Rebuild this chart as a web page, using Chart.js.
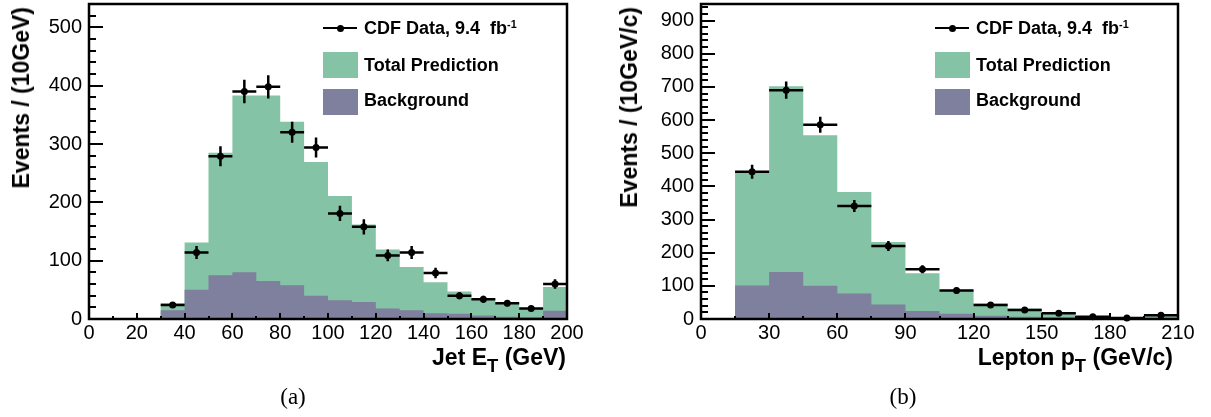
<!DOCTYPE html>
<html><head><meta charset="utf-8">
<script src="https://cdn.jsdelivr.net/npm/chart.js@4.4.1/dist/chart.umd.min.js"></script>
<style>
body{margin:0;background:#fff;}
#wrap{position:relative;width:1211px;height:417px;overflow:hidden;font-family:"Liberation Sans",Arial,sans-serif;color:#000;}
canvas{position:absolute;top:0;}
.ytitle{position:absolute;top:7px;writing-mode:vertical-rl;transform:rotate(180deg);font-weight:bold;font-size:23px;line-height:26px;white-space:nowrap;}
.xtitle{position:absolute;font-weight:bold;font-size:23px;white-space:nowrap;line-height:26px;}
.xtitle sub{font-size:0.8em;vertical-align:-0.4em;line-height:0;}
.cap{position:absolute;font-family:"Liberation Serif","DejaVu Serif",serif;font-size:23px;transform:translateX(-50%);line-height:24px;}
.leg{position:absolute;font-weight:bold;font-size:18px;white-space:nowrap;line-height:20px;}
.leg sup{font-size:0.6em;vertical-align:0.6em;line-height:0;}
.sw{position:absolute;width:35px;height:26px;}
.lline{position:absolute;height:2px;background:#000;width:34px;}
.ldot{position:absolute;width:7px;height:7px;border-radius:50%;background:#000;}
</style></head>
<body>
<div id="wrap">
  <canvas id="c1" width="600" height="417" style="left:0;width:600px;height:417px"></canvas>
  <canvas id="c2" width="605" height="417" style="left:606px;width:605px;height:417px"></canvas>
  <div class="ytitle" style="left:8px">Events / (10GeV)</div>
  <div class="ytitle" style="left:616px">Events / (10GeV/c)</div>
  <div class="xtitle" style="right:calc(1211px - 566px);top:344px">Jet E<sub>T</sub> (GeV)</div>
  <div class="xtitle" style="right:calc(1211px - 1173px);top:344px">Lepton p<sub>T</sub> (GeV/c)</div>
  <div class="cap" style="left:293px;top:385px">(a)</div>
  <div class="cap" style="left:903px;top:385px">(b)</div>
</div>
<script>
// ---------- data ----------
const jetBinEdges = [0,10,20,30,40,50,60,70,80,90,100,110,120,130,140,150,160,170,180,190,200];
const jetTotal    = [0,0,0,27,131,285,383,383,338,269,211,162,119,89,63,47,36,28,18,55];
const jetBkg      = [0,0,0,15,50,75,80,65,58,40,32,29,18,15,10,9,6,4,3,14];
const jetData     = [null,null,null,24,114,279,390,398,320,294,181,158,109,114,79,40,34,27,18,60];
const jetErr      = [null,null,null,5,11,17,20,20,18,17,13,13,10,11,9,6,6,5,4,8];
const jetXTicks   = [0,20,40,60,80,100,120,140,160,180,200];
const jetYTicks   = [0,100,200,300,400,500];

const lepBinEdges = [0,15,30,45,60,75,90,105,120,135,150,165,180,195,210];
const lepTotal    = [0,444,702,554,383,232,138,87,47,32,19,9,4,12];
const lepBkg      = [0,101,142,100,77,44,24,16,10,7,5,3,2,4];
const lepData     = [null,444,690,586,341,220,150,86,42,27,17,7,3,11];
const lepErr      = [null,21,26,24,18,15,12,9,6,5,4,3,2,3];
const lepXTicks   = [0,30,60,90,120,150,180,210];
const lepYTicks   = [0,100,200,300,400,500,600,700,800,900];

// ---------- styles ----------
const GREEN = '#84c3a5';
const PURPLE = '#7f7f9e';
const TICK_FONT = {family:'"Liberation Sans", Arial, sans-serif', size:20};

function histPoints(edges, vals){
  const pts = [];
  vals.forEach((v,i)=>{ pts.push({x:edges[i], y:v}); pts.push({x:edges[i+1], y:v}); });
  return pts;
}
function dataPoints(edges, vals, errs){
  const pts = [];
  vals.forEach((v,i)=>{
    if (v === null) return;
    pts.push({x:(edges[i]+edges[i+1])/2, y:v, lo:edges[i], hi:edges[i+1], e:errs[i]});
  });
  return pts;
}

const decor = {
  id:'histDecor',
  afterDatasetsDraw(chart){
    const {ctx, scales:{x,y}} = chart;
    chart.data.datasets.forEach(ds=>{
      if (!ds.isData) return;
      ctx.save(); ctx.strokeStyle='#000'; ctx.lineWidth=2.5; ctx.lineCap='butt';
      ds.data.forEach(p=>{
        const px = x.getPixelForValue(p.x), py = y.getPixelForValue(p.y);
        ctx.beginPath();
        ctx.moveTo(x.getPixelForValue(p.lo), py); ctx.lineTo(x.getPixelForValue(p.hi), py);
        ctx.moveTo(px, y.getPixelForValue(Math.max(0,p.y-p.e))); ctx.lineTo(px, y.getPixelForValue(p.y+p.e));
        ctx.stroke();
        ctx.beginPath(); ctx.arc(px, py, 3.5, 0, Math.PI*2); ctx.fillStyle='#000'; ctx.fill();
      });
      ctx.restore();
    });
  },
  afterDraw(chart, args, o){
    const {ctx, chartArea:a, scales:{x,y}} = chart;
    ctx.save(); ctx.strokeStyle='#000';
    ctx.lineWidth = 2;
    ctx.beginPath();
    for (let v = x.min; v <= x.max + 1e-9; v += o.xMinor){
      const px = Math.round(x.getPixelForValue(v));
      const major = Math.abs(v/o.xMajor - Math.round(v/o.xMajor)) < 1e-6;
      const len = major ? o.xLen : o.xLen/2;
      ctx.moveTo(px, a.bottom); ctx.lineTo(px, a.bottom - len);
    }
    for (let v = y.min; v <= y.max + 1e-9; v += o.yMinor){
      const py = Math.round(y.getPixelForValue(v));
      const major = Math.abs(v/o.yMajor - Math.round(v/o.yMajor)) < 1e-6;
      const len = major ? o.yLen : o.yLen/2;
      ctx.moveTo(a.left, py); ctx.lineTo(a.left + len, py);
    }
    ctx.stroke();
    ctx.lineWidth = 2.5;
    ctx.strokeRect(a.left, a.top, a.right - a.left, a.bottom - a.top);
    ctx.restore();
  }
};

function makeChart(id, edges, total, bkg, data, errs, xTicks, yTicks, yMax, yWidth, deco){
  return new Chart(document.getElementById(id), {
    type:'line',
    data:{datasets:[
      {label:'CDF Data', type:'scatter', isData:true, data:dataPoints(edges, data, errs),
       pointRadius:0, showLine:false, order:0},
      {label:'Background', data:histPoints(edges, bkg), borderWidth:0, pointRadius:0,
       backgroundColor:PURPLE, borderColor:PURPLE, fill:'origin', order:1, tension:0},
      {label:'Total Prediction', data:histPoints(edges, total), borderWidth:0, pointRadius:0,
       backgroundColor:GREEN, borderColor:GREEN, fill:'origin', order:2, tension:0}
    ]},
    options:{
      responsive:false, animation:false, events:[],
      layout:{padding:{left:0, top:4, right:33, bottom:0}},
      plugins:{legend:{display:false}, tooltip:{enabled:false}, histDecor:deco},
      scales:{
        x:{type:'linear', min:edges[0], max:edges[edges.length-1],
           afterBuildTicks:(s)=>{ s.ticks = xTicks.map(v=>({value:v})); },
           afterFit:(s)=>{ s.height = 98; s.paddingLeft = 0; s.paddingRight = 0; },
           grid:{display:false, drawTicks:false}, border:{display:false},
           ticks:{autoSkip:false, maxRotation:0, padding:2, color:'#000', font:TICK_FONT}},
        y:{type:'linear', min:0, max:yMax,
           afterBuildTicks:(s)=>{ s.ticks = yTicks.map(v=>({value:v})); },
           afterFit:(s)=>{ s.width = yWidth; s.paddingTop = 0; s.paddingBottom = 0; },
           grid:{display:false, drawTicks:false}, border:{display:false},
           ticks:{autoSkip:false, padding:7, color:'#000', font:TICK_FONT}}
      }
    },
    plugins:[decor]
  });
}

makeChart('c1', jetBinEdges, jetTotal, jetBkg, jetData, jetErr, jetXTicks, jetYTicks, 540, 89,
  {xMajor:20, xMinor:10, xLen:6, yMajor:100, yMinor:20, yLen:14});
makeChart('c2', lepBinEdges, lepTotal, lepBkg, lepData, lepErr, lepXTicks, lepYTicks, 950, 95,
  {xMajor:30, xMinor:15, xLen:6, yMajor:100, yMinor:20, yLen:14});

// ---------- legends ----------
function legend(x0){
  const w = document.getElementById('wrap');
  const add = (cls, style, html) => { const d = document.createElement('div'); d.className = cls; d.setAttribute('style', style); if (html) d.innerHTML = html; w.appendChild(d); };
  add('lline', `left:${x0}px;top:27px`);
  add('ldot', `left:${x0+14}px;top:24.5px`);
  add('leg', `left:${x0+41}px;top:18px`, 'CDF Data, 9.4&nbsp; fb<sup>-1</sup>');
  add('sw', `left:${x0}px;top:52px;background:${GREEN}`);
  add('leg', `left:${x0+41}px;top:55px`, 'Total Prediction');
  add('sw', `left:${x0}px;top:89px;background:${PURPLE}`);
  add('leg', `left:${x0+41}px;top:90px`, 'Background');
}
legend(323);
legend(935);
</script>
</body></html>
